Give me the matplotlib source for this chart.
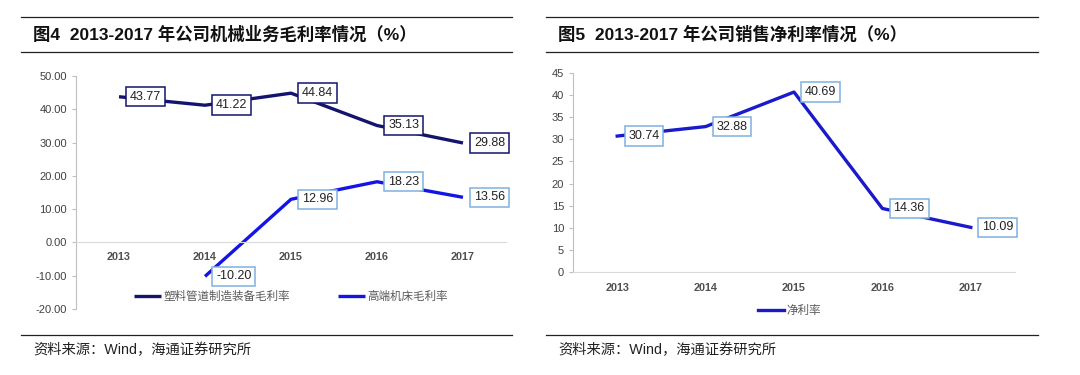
import matplotlib

matplotlib.use("Agg")
import matplotlib.pyplot as plt
from matplotlib.lines import Line2D
from matplotlib.ticker import FormatStrFormatter, MultipleLocator

plt.rcParams["font.family"] = ["Liberation Sans", "Noto Sans CJK SC"]

years = ["2013", "2014", "2015", "2016", "2017"]

# 图4 机械业务毛利率
pipe_name = "塑料管道制造装备毛利率"
pipe_years = ["2013", "2014", "2015", "2016", "2017"]
pipe_vals = [43.77, 41.22, 44.84, 35.13, 29.88]

tool_name = "高端机床毛利率"
tool_years = ["2014", "2015", "2016", "2017"]
tool_vals = [-10.20, 12.96, 18.23, 13.56]

# 图5 销售净利率
net_name = "净利率"
net_vals = [30.74, 32.88, 40.69, 14.36, 10.09]

title_left = "图4  2013-2017 年公司机械业务毛利率情况（%）"
title_right = "图5  2013-2017 年公司销售净利率情况（%）"
source = "资料来源：Wind，海通证券研究所"

NAVY = "#14146E"
BLUE = "#1414E6"
BLUE_R = "#1A1ACC"
EDGE_LIGHT = "#7FB0E0"
TICK = "#404040"
AXIS = "#BFBFBF"
ZERO = "#D9D9D9"

fig = plt.figure(figsize=(10.8, 3.75), dpi=100)


def _rules(x0, x1, title_x, title):
    for y in (17, 52, 335):
        fig.add_artist(Line2D([x0 / 1080, x1 / 1080], [1 - y / 375] * 2,
                              color="#222222", linewidth=0.9))
    fig.text(title_x / 1080, 1 - 34 / 375, title, fontsize=12.5,
             fontweight="bold", va="center", ha="left", color="#111111")
    fig.text(title_x / 1080, 1 - 350 / 375, source, fontsize=10.3,
             va="center", ha="left", color="#222222")


def _label(ax, x, y, txt, edge):
    ax.annotate(txt, (x, y), xytext=(8, 0), textcoords="offset points",
                ha="left", va="center", fontsize=9, color="#222222",
                bbox={"boxstyle": "square,pad=0.3", "fc": "white",
                      "ec": edge, "lw": 1.1}, zorder=5)


def _axes_style(ax):
    for s in ("top", "right"):
        ax.spines[s].set_visible(False)
    ax.spines["left"].set_color(AXIS)
    ax.spines["bottom"].set_color(ZERO)
    ax.tick_params(axis="y", colors=AXIS, labelcolor=TICK, labelsize=8,
                   length=3, width=0.8, direction="out")
    ax.tick_params(axis="x", length=0, labelcolor="#505050", labelsize=7.8)
    for t in ax.get_xticklabels():
        t.set_fontweight("bold")


# ---- left panel ----
_rules(21, 512, 33, title_left)
ax1 = fig.add_axes([76 / 1080, 1 - 309 / 375, 430 / 1080, 233 / 375])
xi = {y: i for i, y in enumerate(years)}
px = [xi[y] for y in pipe_years]
tx = [xi[y] for y in tool_years]
ax1.plot(px, pipe_vals, color=NAVY, linewidth=2.4, label=pipe_name,
         solid_joinstyle="round", solid_capstyle="butt")
ax1.plot(tx, tool_vals, color=BLUE, linewidth=2.4, label=tool_name,
         solid_joinstyle="round", solid_capstyle="butt")
for x, v in zip(px, pipe_vals):
    _label(ax1, x, v, f"{v:.2f}", NAVY)
for x, v in zip(tx, tool_vals):
    _label(ax1, x, v, f"{v:.2f}", EDGE_LIGHT)
ax1.set_xlim(-0.5, 4.5)
ax1.set_ylim(-20, 50)
ax1.yaxis.set_major_locator(MultipleLocator(10))
ax1.yaxis.set_major_formatter(FormatStrFormatter("%.2f"))
ax1.set_xticks(range(len(years)))
ax1.set_xticklabels(years)
ax1.spines["bottom"].set_position(("data", 0))
_axes_style(ax1)
ax1.tick_params(axis="x", pad=7)
leg1 = ax1.legend(loc="center", bbox_to_anchor=(0.5, (297 - 309) / -233),
                  ncol=2, frameon=False, fontsize=8.3, handlelength=2.3,
                  handletextpad=0.2, columnspacing=4.2)
for t in leg1.get_texts():
    t.set_color("#595959")

# ---- right panel ----
_rules(546, 1038, 558, title_right)
ax2 = fig.add_axes([573 / 1080, 1 - 272 / 375, 442 / 1080, 199 / 375])
ax2.plot(range(len(years)), net_vals, color=BLUE_R, linewidth=2.4,
         label=net_name, solid_joinstyle="round")
for x, v in enumerate(net_vals):
    _label(ax2, x, v, f"{v:.2f}", EDGE_LIGHT)
ax2.set_xlim(-0.5, 4.5)
ax2.set_ylim(0, 45)
ax2.yaxis.set_major_locator(MultipleLocator(5))
ax2.set_xticks(range(len(years)))
ax2.set_xticklabels(years)
_axes_style(ax2)
ax2.tick_params(axis="x", pad=8)
leg2 = ax2.legend(loc="center", bbox_to_anchor=(0.49, -(311 - 272) / 199),
                  frameon=False, fontsize=8.3, handlelength=2.3,
                  handletextpad=0.2)
for t in leg2.get_texts():
    t.set_color("#595959")

fig.savefig("out.png", dpi=100, facecolor="white")
